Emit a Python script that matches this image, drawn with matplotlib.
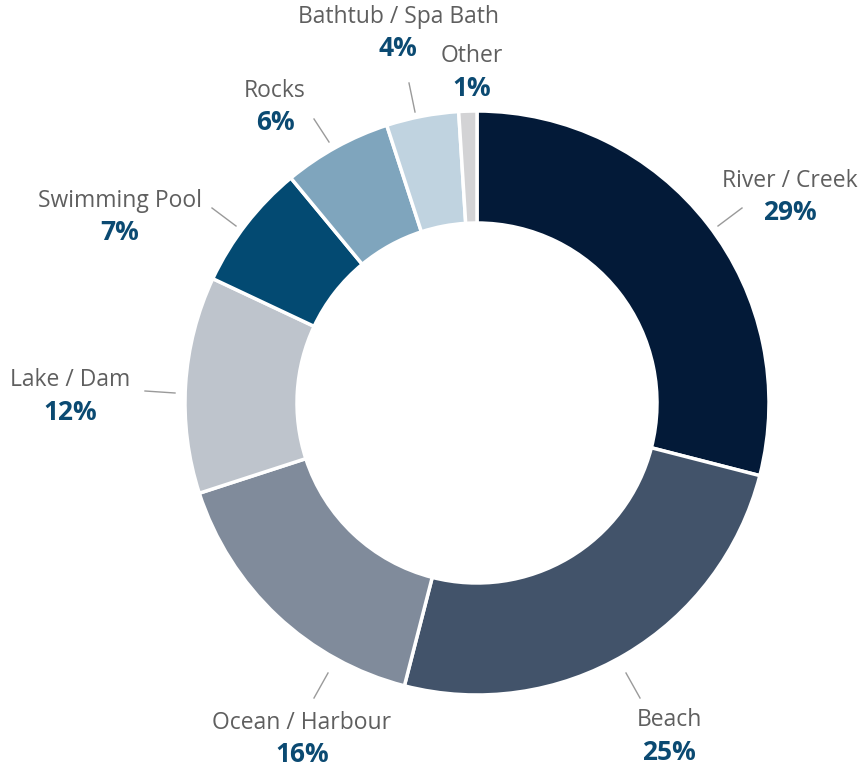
import numpy as np
import matplotlib
matplotlib.use('Agg')
import matplotlib.pyplot as plt

# drowning locations, share of total (%)
locations = ['River / Creek', 'Beach', 'Ocean / Harbour', 'Lake / Dam',
             'Swimming Pool', 'Rocks', 'Bathtub / Spa Bath', 'Other']
shares = [29, 25, 16, 12, 7, 6, 4, 1]
colours = ['#031a38', '#42536a', '#808b9b', '#bec4cc',
           '#034a72', '#7fa5bd', '#c0d3e0', '#d3d3d5']

# label centres in pixels (top-left origin)
label_pos = [(790, 181), (669, 720), (302, 723), (70, 380),
             (120, 201), (275, 91), (398, 17), (472, 56)]
# leader lines, pixel ends (None = no line)
leaders = [((718, 226), (742, 208)), ((626, 673), (640, 698)),
           ((328, 673), (314, 698)), ((145, 391), (175, 393)),
           ((212, 208), (236, 226)), ((314, 119), (329, 142)),
           ((409, 83), (415, 112)), None]

W, H = 865, 774
cx, cy, R = 477, H - 403, 292

plt.rcParams['font.family'] = ['Open Sans', 'DejaVu Sans']

fig = plt.figure(figsize=(W / 100, H / 100), dpi=100)
ax = fig.add_axes([0, 0, 1, 1])

wedges, _ = ax.pie(shares, colors=colours, startangle=90, counterclock=False,
                   radius=R, center=(cx, cy),
                   wedgeprops=dict(width=112, edgecolor='white', linewidth=2.5))

ax.set_xlim(0, W)
ax.set_ylim(0, H)
ax.set_aspect('equal')
ax.axis('off')

for name, val, (lx, ly), ln in zip(locations, shares, label_pos, leaders):
    if ln is not None:
        (x1, y1), (x2, y2) = ln
        ax.plot([x1, x2], [H - y1, H - y2], color='#9a9a9a', lw=1)
    ax.text(lx, H - ly, name, ha='center', va='center', fontsize=16.5, color='#5f5f5f')
    ax.text(lx, H - ly - 32, f'{val}%', ha='center', va='center', fontsize=19,
            fontweight='bold', color='#0b4a72')

fig.savefig('out.png', dpi=100)
